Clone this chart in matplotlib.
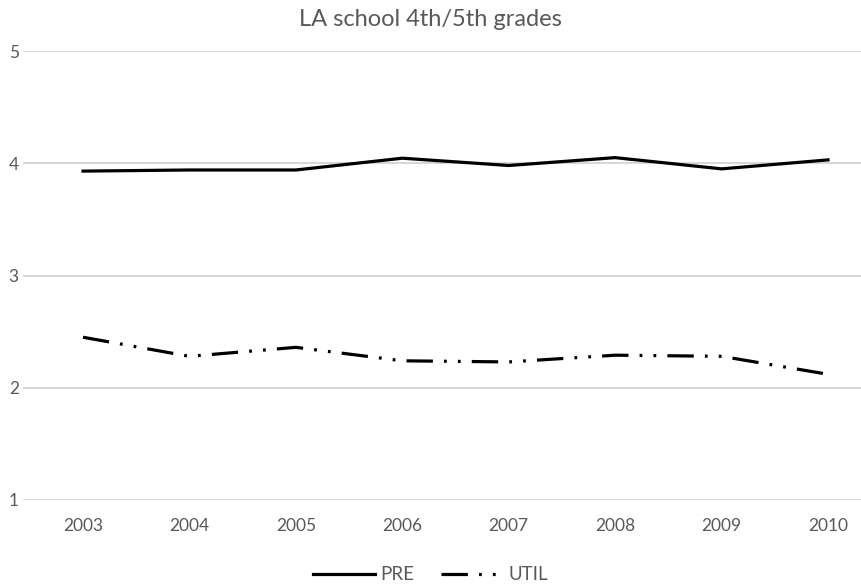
import matplotlib
matplotlib.use('Agg')
import matplotlib.pyplot as plt

years = ['2003', '2004', '2005', '2006', '2007', '2008', '2009', '2010']
pre = [3.93, 3.94, 3.94, 4.045, 3.98, 4.05, 3.95, 4.03]
util = [2.45, 2.28, 2.36, 2.24, 2.23, 2.29, 2.28, 2.12]

plt.rcParams['font.family'] = ['Lato', 'DejaVu Sans']
plt.rcParams['lines.scale_dashes'] = False
grey = '#595959'

fig = plt.figure(figsize=(8.61, 5.86), dpi=100)
ax = fig.add_axes([23/861, 1 - 500/586, 838/861, 449/586])

x = list(range(len(years)))
ax.plot(x, pre, color='black', lw=2.3, label='PRE', solid_joinstyle='round')
ax.plot(x, util, color='black', lw=2.3, label='UTIL',
        linestyle=(0, (19, 8, 2, 8, 2, 8)), dash_capstyle='butt')

ax.set_ylim(1, 5)
ax.set_xlim(-0.564, 7.31)
ax.set_yticks([1, 2, 3, 4, 5])
ax.set_xticks(x)
ax.set_xticklabels(years)
ax.grid(axis='y', color='#d0d0d0', lw=1.2)
ax.set_axisbelow(True)
for s in ax.spines.values():
    s.set_visible(False)
ax.tick_params(length=0, labelsize=12.5, colors=grey)
ax.tick_params(axis='y', pad=3)
ax.tick_params(axis='x', pad=13)

fig.text(0.5, 1 - 20/586, 'LA school 4th/5th grades', ha='center', va='center',
         fontsize=17, color=grey)

fig.legend(loc='center', bbox_to_anchor=(0.5, 1 - 575/586), ncol=2, frameon=False,
           fontsize=13.5, labelcolor=grey, handlelength=3.3, handletextpad=0.3,
           columnspacing=1.4)

fig.savefig('out.png', dpi=100)
